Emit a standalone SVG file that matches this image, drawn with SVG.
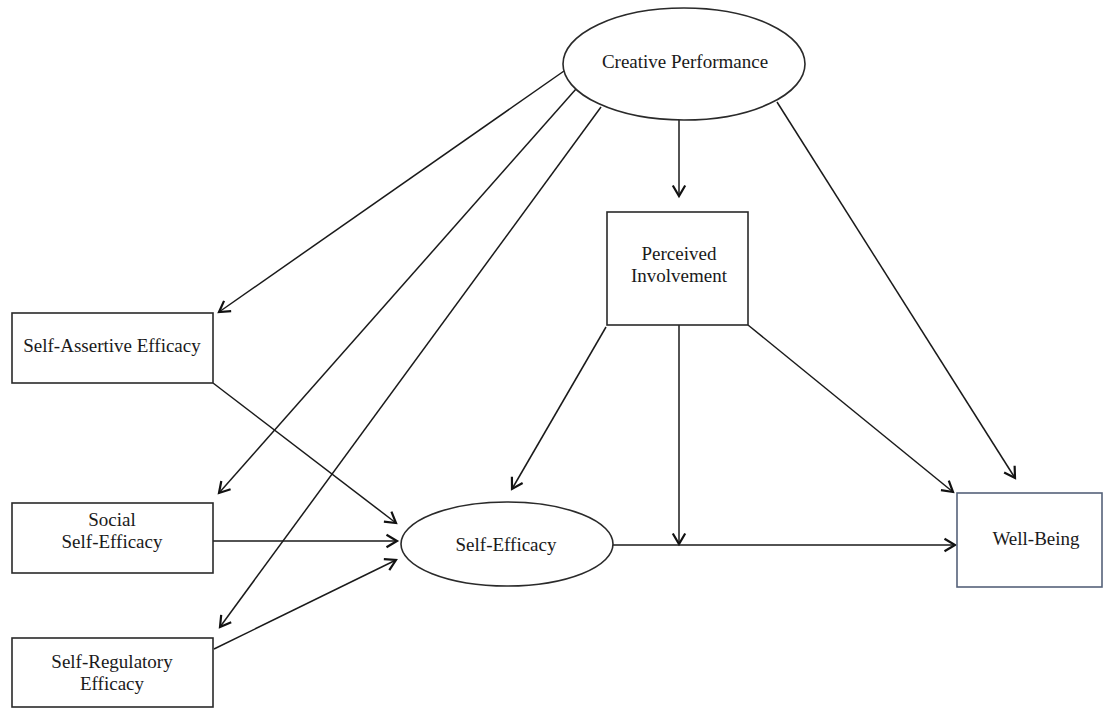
<svg xmlns="http://www.w3.org/2000/svg" width="1104" height="708" viewBox="0 0 1104 708">
<style>
.box{fill:#fff;stroke:#2a2a2a;stroke-width:1.6}
.wb{fill:#fff;stroke:#55627a;stroke-width:1.6}
.lbl{font-family:"Liberation Serif","Times New Roman",serif;font-size:19px;fill:#1a1a1a;text-anchor:middle}
.cn{fill:none;stroke:#1a1a1a;stroke-width:1.5}
.ar{marker-end:url(#ah)}
</style>
<defs>
<marker id="ah" markerUnits="userSpaceOnUse" markerWidth="20" markerHeight="20" viewBox="-14 -10 16 20" refX="0" refY="0" orient="auto">
<path d="M-10.5,-6.2 L0,0 L-10.5,6.2" fill="none" stroke="#111" stroke-width="2.2" stroke-linejoin="miter"/>
</marker>
</defs>
<rect width="1104" height="708" fill="#fff"/>
<g id="connectors">
<line class="cn ar" x1="564" y1="71" x2="219" y2="312"/>
<line class="cn ar" x1="576" y1="89" x2="219" y2="493"/>
<line class="cn ar" x1="601" y1="107" x2="220" y2="627"/>
<line class="cn ar" x1="777" y1="102" x2="1015" y2="478"/>
<line class="cn ar" x1="679" y1="120" x2="679" y2="196"/>
<line class="cn ar" x1="606" y1="327" x2="512" y2="489"/>
<line class="cn ar" x1="679" y1="325" x2="679" y2="544"/>
<line class="cn ar" x1="748" y1="325" x2="953" y2="492"/>
<line class="cn ar" x1="613" y1="545" x2="955" y2="545"/>
<line class="cn ar" x1="213" y1="383" x2="396" y2="523"/>
<line class="cn ar" x1="213" y1="541" x2="397" y2="541"/>
<line class="cn ar" x1="214" y1="649" x2="396" y2="560"/>
</g>
<g id="creative-performance">
<ellipse class="box" cx="684" cy="64" rx="121" ry="56"/>
<text class="lbl" x="685" y="68">Creative Performance</text>
</g>
<g id="perceived-involvement">
<rect class="box" x="607" y="212" width="141" height="113"/>
<text class="lbl" x="679" y="260">Perceived</text>
<text class="lbl" x="679" y="282">Involvement</text>
</g>
<g id="self-assertive-efficacy">
<rect class="box" x="12" y="313" width="201" height="70"/>
<text class="lbl" x="112" y="352">Self-Assertive Efficacy</text>
</g>
<g id="social-self-efficacy">
<rect class="box" x="12" y="503" width="201" height="70"/>
<text class="lbl" x="112" y="526">Social</text>
<text class="lbl" x="112" y="548">Self-Efficacy</text>
</g>
<g id="self-regulatory-efficacy">
<rect class="box" x="12" y="638" width="201" height="69"/>
<text class="lbl" x="112" y="668">Self-Regulatory</text>
<text class="lbl" x="112" y="690">Efficacy</text>
</g>
<g id="self-efficacy">
<ellipse class="box" cx="507" cy="544" rx="106" ry="42"/>
<text class="lbl" x="506" y="551">Self-Efficacy</text>
</g>
<g id="well-being">
<rect class="wb" x="957" y="493" width="145" height="94"/>
<text class="lbl" x="1036" y="545">Well-Being</text>
</g>
</svg>
